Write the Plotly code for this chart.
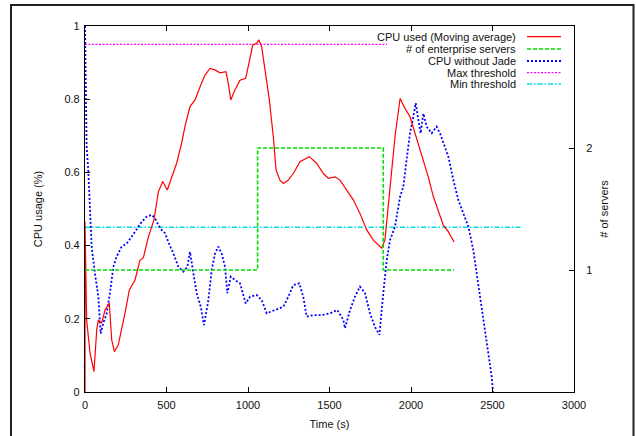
import plotly.graph_objects as go

# ---- data ----
cpu_t = [0, 0, 10, 31, 55, 72, 82, 102, 123, 149, 164, 180, 204, 225, 245, 272, 307, 337, 358, 389,
         423, 450, 477, 505, 542, 562, 593, 613, 644, 675, 706, 736, 767, 798, 828, 865, 879, 894,
         920, 951, 986, 1012, 1029, 1053, 1067, 1084, 1104, 1131, 1155, 1172, 1196, 1217, 1247, 1278,
         1319, 1376, 1421, 1462, 1493, 1534, 1564, 1605, 1646, 1687, 1728, 1769, 1820, 1840, 1871,
         1902, 1933, 1963, 1994, 2025, 2045, 2076, 2106, 2137, 2167, 2198, 2229, 2264]
cpu_v = [0.0, 0.465, 0.197, 0.106, 0.056, 0.17, 0.197, 0.188, 0.224, 0.243, 0.142, 0.11, 0.128, 0.17,
         0.215, 0.279, 0.306, 0.36, 0.367, 0.424, 0.47, 0.547, 0.575, 0.552, 0.597, 0.625, 0.68, 0.725,
         0.78, 0.798, 0.834, 0.866, 0.884, 0.88, 0.872, 0.875, 0.843, 0.798, 0.825, 0.852, 0.857, 0.907,
         0.948, 0.953, 0.962, 0.943, 0.88, 0.798, 0.698, 0.607, 0.579, 0.57, 0.579, 0.597, 0.629, 0.643,
         0.625, 0.597, 0.584, 0.588, 0.579, 0.552, 0.525, 0.488, 0.443, 0.415, 0.393, 0.415, 0.561,
         0.698, 0.802, 0.775, 0.752, 0.707, 0.68, 0.634, 0.588, 0.534, 0.493, 0.456, 0.438, 0.41]

srv_t = [0, 1059, 1059, 1830, 1830, 2264]
srv_n = [1, 1, 2, 2, 1, 1]

jade_t = [0, 10, 20, 41, 61, 82, 96, 112, 133, 153, 174, 194, 225, 256, 286, 317, 348, 378, 409, 429,
          450, 470, 491, 511, 542, 573, 603, 628, 644, 665, 685, 710, 730, 757, 777, 798, 818, 838,
          859, 873, 894, 920, 951, 986, 1012, 1053, 1084, 1115, 1166, 1217, 1247, 1278, 1315, 1339,
          1360, 1401, 1452, 1503, 1548, 1585, 1595, 1626, 1656, 1687, 1718, 1748, 1779, 1806, 1830,
          1851, 1871, 1902, 1933, 1953, 1973, 1994, 2014, 2029, 2045, 2059, 2076, 2096, 2127, 2157,
          2178, 2198, 2229, 2260, 2290, 2321, 2352, 2382, 2403, 2434, 2464, 2495, 2503]
jade_v = [1.0, 0.67, 0.607, 0.397, 0.324, 0.26, 0.16, 0.188, 0.215, 0.27, 0.342, 0.37, 0.397, 0.406,
          0.424, 0.443, 0.465, 0.479, 0.484, 0.475, 0.456, 0.443, 0.434, 0.41, 0.379, 0.342, 0.329,
          0.342, 0.383, 0.324, 0.27, 0.233, 0.183, 0.251, 0.333, 0.379, 0.397, 0.379, 0.342, 0.27,
          0.315, 0.306, 0.297, 0.242, 0.26, 0.265, 0.251, 0.215, 0.224, 0.233, 0.26, 0.292, 0.297,
          0.26, 0.206, 0.21, 0.21, 0.215, 0.224, 0.197, 0.174, 0.224, 0.26, 0.288, 0.27, 0.215, 0.178,
          0.156, 0.27, 0.36, 0.415, 0.452, 0.534, 0.561, 0.634, 0.707, 0.752, 0.789, 0.743, 0.707,
          0.761, 0.725, 0.707, 0.725, 0.707, 0.68, 0.643, 0.579, 0.525, 0.488, 0.452, 0.388, 0.324,
          0.242, 0.142, 0.042, 0.0]

thr_t = [0, 2680]
max_thr = [0.95, 0.95]
min_thr = [0.45, 0.45]

x_ticks = [0, 500, 1000, 1500, 2000, 2500, 3000]
x_tick_labels = ["0", "500", "1000", "1500", "2000", "2500", "3000"]
y_ticks = [0, 0.2, 0.4, 0.6, 0.8, 1]
y_tick_labels = ["0", "0.2", "0.4", "0.6", "0.8", "1"]
y2_ticks = [1, 2]
y2_tick_labels = ["1", "2"]

names = ["CPU used (Moving average)", "# of enterprise servers", "CPU without Jade",
         "Max threshold", "Min threshold"]
colors = ["#ff0000", "#00dd00", "#0000ff", "#ff00ff", "#00e0e0"]
dashes = ["solid", "4px,2px", "2px,2px", "2px,1.5px", "5px,2px,1.5px,2px"]
widths = [1.2, 1.6, 1.8, 1.2, 1.4]

FONT = "Liberation Sans, Arial, Helvetica, sans-serif"

fig = go.Figure()
fig.add_trace(go.Scatter(x=thr_t, y=max_thr, mode="lines", name=names[3],
                         line=dict(color=colors[3], dash=dashes[3], width=widths[3])))
fig.add_trace(go.Scatter(x=thr_t, y=min_thr, mode="lines", name=names[4],
                         line=dict(color=colors[4], dash=dashes[4], width=widths[4])))
fig.add_trace(go.Scatter(x=srv_t, y=srv_n, mode="lines", name=names[1], yaxis="y2",
                         line=dict(color=colors[1], dash=dashes[1], width=widths[1])))
fig.add_trace(go.Scatter(x=jade_t, y=jade_v, mode="lines", name=names[2],
                         line=dict(color=colors[2], dash=dashes[2], width=widths[2])))
fig.add_trace(go.Scatter(x=cpu_t, y=cpu_v, mode="lines", name=names[0],
                         line=dict(color=colors[0], dash=dashes[0], width=widths[0])))

L, R, T, B = 85, 62, 26, 44
W, H = 636, 436
pw, ph = W - L - R, H - T - B

def px(x):
    return (x - L) / pw

def py(y):
    return (H - B - y) / ph

shapes = []
annotations = []
# outer frame of the figure
shapes.append(dict(type="rect", xref="paper", yref="paper", x0=px(11), x1=px(633.5),
                   y0=py(450), y1=py(5), line=dict(color="#222", width=2), layer="above"))
# opaque key box
shapes.append(dict(type="rect", xref="paper", yref="paper", x0=px(387), x1=px(568),
                   y0=py(90), y1=py(31), fillcolor="white", line=dict(width=0), layer="above"))
rows = [36.7, 49.0, 61.0, 72.7, 84.0]
for i, nm in enumerate(names):
    annotations.append(dict(x=px(518), y=py(rows[i]), xref="paper", yref="paper", text=nm,
                            showarrow=False, xanchor="right", yanchor="middle",
                            font=dict(family=FONT, size=11, color="#111")))
    shapes.append(dict(type="line", xref="paper", yref="paper", x0=px(527), x1=px(561),
                       y0=py(rows[i]), y1=py(rows[i]), layer="above",
                       line=dict(color=colors[i], dash=dashes[i], width=widths[i])))

axis_common = dict(showgrid=False, zeroline=False, showline=True, linecolor="#000", linewidth=1.2,
                   ticks="inside", ticklen=5, tickcolor="#000", automargin=False,
                   tickfont=dict(family=FONT, size=11, color="#111"))

fig.update_layout(
    width=W, height=H, margin=dict(l=L, r=R, t=T, b=B),
    paper_bgcolor="white", plot_bgcolor="white", showlegend=False,
    font=dict(family=FONT, size=11, color="#111"),
    xaxis=dict(range=[0, 3000], tickvals=x_ticks, ticktext=x_tick_labels, mirror="ticks",
               ticklabelstandoff=3,
               title=dict(text="Time (s)", standoff=10, font=dict(size=11)), **axis_common),
    yaxis=dict(range=[0, 1], tickvals=y_ticks, ticktext=y_tick_labels, ticklabelstandoff=2,
               title=dict(text="CPU usage (%)", standoff=19, font=dict(size=11)), **axis_common),
    yaxis2=dict(range=[0, 3], tickvals=y2_ticks, ticktext=y2_tick_labels, overlaying="y",
                side="right", ticklabelstandoff=9,
                title=dict(text="# of servers", standoff=8, font=dict(size=11)),
                **axis_common),
    shapes=shapes, annotations=annotations,
)

fig.write_html("out.html")
